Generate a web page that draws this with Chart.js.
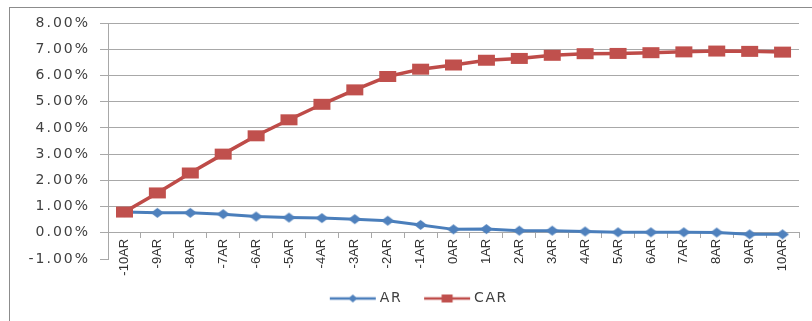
<!DOCTYPE html>
<html>
<head>
<meta charset="utf-8">
<script src="https://cdn.jsdelivr.net/npm/chart.js@4.4.0/dist/chart.umd.min.js"></script>
<style>
  html, body { margin: 0; padding: 0; background: #fff; }
  #wrap { position: relative; width: 812px; height: 321px; overflow: hidden; }
  #frame { position: absolute; left: 9px; top: 7px; width: 830px; height: 340px;
           border-left: 1px solid #8c8c8c; border-top: 1px solid #8c8c8c; box-sizing: border-box; }
  #c { position: absolute; left: 0; top: 0; }
</style>
</head>
<body>
<div id="wrap">
  <canvas id="c" width="812" height="321"></canvas>
  <div id="frame"></div>
</div>
<script>
// Event window, day -10 to day +10
const categories = ['-10AR', '-9AR', '-8AR', '-7AR', '-6AR', '-5AR', '-4AR', '-3AR', '-2AR', '-1AR',
                    '0AR', '1AR', '2AR', '3AR', '4AR', '5AR', '6AR', '7AR', '8AR', '9AR', '10AR'];

// Abnormal return per day (%)
const arValues = [0.79, 0.76, 0.76, 0.71, 0.62, 0.58, 0.56, 0.52, 0.46, 0.30,
                  0.13, 0.14, 0.08, 0.08, 0.05, 0.02, 0.02, 0.02, 0.01, -0.06, -0.06];

// Cumulative abnormal return (%)
const carValues = [0.79, 1.52, 2.28, 3.00, 3.70, 4.31, 4.90, 5.45, 5.96, 6.24,
                   6.40, 6.58, 6.65, 6.77, 6.83, 6.84, 6.87, 6.90, 6.93, 6.92, 6.89];

// Value axis range and step (%)
const yMin = -1;
const yMax = 8;
const yStep = 1;

const seriesNames = ['AR', 'CAR'];

const BLUE = '#4a7ebb';
const BLUE_MARK = '#4f81bd';
const RED = '#be4b48';
const RED_MARK = '#c0504d';
const GRID = '#a8a8a8';

// Small canvas glyphs used as point markers (optionally with a line through them for the legend)
function glyph(kind, w, h, fill, lineLen, lineColor, lineWidth) {
  const cw = Math.max(w, lineLen || 0) + 2;
  const ch = h + 2;
  const c = document.createElement('canvas');
  c.width = cw; c.height = ch;
  const g = c.getContext('2d');
  const cx = cw / 2, cy = ch / 2;
  if (lineLen) {
    g.strokeStyle = lineColor;
    g.lineWidth = lineWidth;
    g.beginPath();
    g.moveTo(cx - lineLen / 2, cy);
    g.lineTo(cx + lineLen / 2, cy);
    g.stroke();
  }
  g.fillStyle = fill;
  if (kind === 'diamond') {
    g.beginPath();
    g.moveTo(cx, cy - h / 2);
    g.lineTo(cx + w / 2, cy);
    g.lineTo(cx, cy + h / 2);
    g.lineTo(cx - w / 2, cy);
    g.closePath();
    g.fill();
  } else {
    g.fillRect(cx - w / 2, cy - h / 2, w, h);
  }
  return c;
}

const arMarker = glyph('diamond', 13, 10, BLUE_MARK);
const carMarker = glyph('rect', 17, 11, RED_MARK);
const legendIcons = [
  glyph('diamond', 9, 8, BLUE_MARK, 46, BLUE, 2.5),
  glyph('rect', 11, 8, RED_MARK, 46, RED, 2.5)
];

// Wider letter spacing for the value-axis labels and legend text; legend nudged right of centre
const spacedText = {
  id: 'spacedText',
  afterUpdate(chart) {
    const y = chart.scales.y;
    if (y && !y._spaced) {
      const orig = y.drawLabels;
      y.drawLabels = function (area) {
        const prev = this.ctx.letterSpacing;
        this.ctx.letterSpacing = '2px';
        orig.call(this, area);
        this.ctx.letterSpacing = prev;
      };
      y._spaced = true;
    }
    const lg = chart.legend;
    if (lg && !lg._spaced) {
      const origDraw = lg.draw;
      lg.draw = function (area) {
        const ctx = this.ctx;
        const prev = ctx.letterSpacing;
        ctx.save();
        ctx.translate(17, 0);
        ctx.letterSpacing = '1.5px';
        origDraw.call(this, area);
        ctx.restore();
        ctx.letterSpacing = prev;
      };
      lg._spaced = true;
    }
  }
};

new Chart(document.getElementById('c'), {
  type: 'line',
  data: {
    labels: categories,
    datasets: [
      {
        label: seriesNames[0],
        data: arValues,
        borderColor: BLUE,
        backgroundColor: BLUE_MARK,
        borderWidth: 3,
        pointStyle: arMarker,
        pointRadius: 6,
        tension: 0,
        order: 1
      },
      {
        label: seriesNames[1],
        data: carValues,
        borderColor: RED,
        backgroundColor: RED_MARK,
        borderWidth: 3.5,
        pointStyle: carMarker,
        pointRadius: 6,
        tension: 0,
        order: 0
      }
    ]
  },
  options: {
    responsive: false,
    animation: false,
    events: [],
    layout: { padding: { left: 0, right: 13, top: 23, bottom: 5.5 } },
    scales: {
      x: {
        type: 'category',
        position: { y: 0 },
        offset: true,
        grid: { offset: true, drawOnChartArea: false, drawTicks: true, tickLength: 5, color: GRID },
        border: { color: GRID, width: 1 },
        ticks: {
          autoSkip: false,
          minRotation: 90,
          maxRotation: 90,
          padding: 1,
          color: '#333333',
          font: { family: 'Liberation Sans, Arial, sans-serif', size: 13 }
        }
      },
      y: {
        min: yMin,
        max: yMax,
        afterFit(scale) { scale.width = 108; },
        grid: {
          color: (ctx) => (ctx.tick && ctx.tick.value === yMin ? 'rgba(0,0,0,0)' : GRID),
          tickColor: GRID,
          tickLength: 8,
          lineWidth: 1
        },
        border: { color: GRID, width: 1 },
        ticks: {
          stepSize: yStep,
          padding: 10,
          color: '#404040',
          font: { family: 'DejaVu Sans, sans-serif', size: 14 },
          callback: (v) => Number(v).toFixed(2) + '%'
        }
      }
    },
    plugins: {
      tooltip: { enabled: false },
      legend: {
        position: 'bottom',
        title: { display: true, text: ' ', padding: 0, font: { size: 7.5, lineHeight: 1 } },
        labels: {
          usePointStyle: true,
          pointStyleWidth: 40,
          padding: 25,
          color: '#404040',
          font: { family: 'DejaVu Sans, sans-serif', size: 14 },
          sort: (a, b) => a.datasetIndex - b.datasetIndex,
          generateLabels(chart) {
            const items = Chart.defaults.plugins.legend.labels.generateLabels(chart);
            items.forEach((it) => { it.pointStyle = legendIcons[it.datasetIndex]; });
            return items;
          }
        }
      }
    }
  },
  plugins: [spacedText]
});
</script>
</body>
</html>
